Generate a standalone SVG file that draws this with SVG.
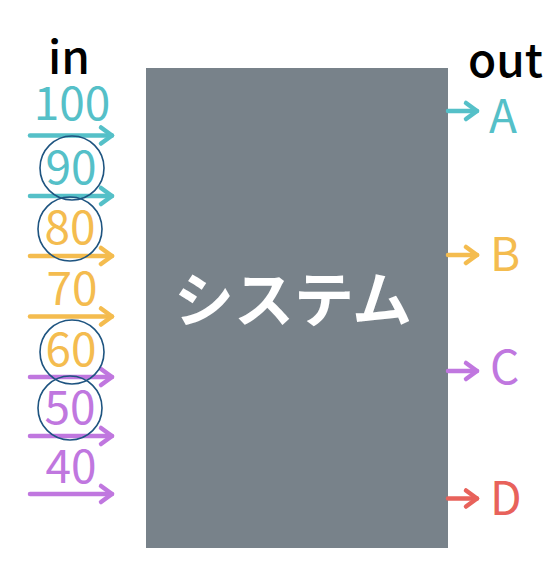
<svg xmlns="http://www.w3.org/2000/svg" width="560" height="576" viewBox="0 0 560 576">
<style>
.t{font-family:"Noto Sans CJK JP","Noto Sans",sans-serif;font-size:46px;font-weight:400}
.h{font-family:"Noto Sans CJK JP","Noto Sans",sans-serif;font-size:46px;font-weight:500;fill:#000}
.m{text-anchor:middle}
.teal{fill:#55c0c8}.orange{fill:#f4bc4f}.purple{fill:#c077df}.red{fill:#e8625b}
.a{fill:none;stroke-width:4.5;stroke-linecap:round}
.ring{fill:none;stroke:#1e5480;stroke-width:1.6}
.sys{font-family:"Noto Sans CJK JP","Noto Sans",sans-serif;font-size:60px;font-weight:bold;fill:#fff;text-anchor:middle}
</style>
<defs>
<marker id="mt" markerUnits="userSpaceOnUse" markerWidth="20" markerHeight="20" refX="14" refY="10" orient="auto" overflow="visible"><path d="M3 2 L14 10 L3 18" fill="none" stroke="#55c0c8" stroke-width="4.5" stroke-linecap="round" stroke-linejoin="round"/></marker>
<marker id="mo" markerUnits="userSpaceOnUse" markerWidth="20" markerHeight="20" refX="14" refY="10" orient="auto" overflow="visible"><path d="M3 2 L14 10 L3 18" fill="none" stroke="#f4bc4f" stroke-width="4.5" stroke-linecap="round" stroke-linejoin="round"/></marker>
<marker id="mp" markerUnits="userSpaceOnUse" markerWidth="20" markerHeight="20" refX="14" refY="10" orient="auto" overflow="visible"><path d="M3 2 L14 10 L3 18" fill="none" stroke="#c077df" stroke-width="4.5" stroke-linecap="round" stroke-linejoin="round"/></marker>
<marker id="mr" markerUnits="userSpaceOnUse" markerWidth="20" markerHeight="20" refX="14" refY="10" orient="auto" overflow="visible"><path d="M3 2 L14 10 L3 18" fill="none" stroke="#e8625b" stroke-width="4.5" stroke-linecap="round" stroke-linejoin="round"/></marker>
</defs>
<rect width="560" height="576" fill="#fff"/>
<g id="system">
<rect x="146" y="68" width="302" height="480" fill="#78828a"/>
<text class="sys" x="293" y="322">システム</text>
</g>
<g id="headers">
<text class="h" x="48" y="73.5">in</text>
<text class="h" x="468" y="77">out</text>
</g>
<g id="connectors">
<line class="a" x1="30" y1="135.5" x2="112" y2="135.5" stroke="#55c0c8" marker-end="url(#mt)"/>
<line class="a" x1="30" y1="196" x2="112" y2="196" stroke="#55c0c8" marker-end="url(#mt)"/>
<line class="a" x1="30" y1="256" x2="112" y2="256" stroke="#f4bc4f" marker-end="url(#mo)"/>
<line class="a" x1="30" y1="316.5" x2="112" y2="316.5" stroke="#f4bc4f" marker-end="url(#mo)"/>
<line class="a" x1="30" y1="377" x2="112" y2="377" stroke="#c077df" marker-end="url(#mp)"/>
<line class="a" x1="30" y1="436" x2="112" y2="436" stroke="#c077df" marker-end="url(#mp)"/>
<line class="a" x1="30" y1="494" x2="112" y2="494" stroke="#c077df" marker-end="url(#mp)"/>
<line class="a" x1="448" y1="111" x2="477" y2="111" stroke="#55c0c8" marker-end="url(#mt)"/>
<line class="a" x1="448" y1="255" x2="477" y2="255" stroke="#f4bc4f" marker-end="url(#mo)"/>
<line class="a" x1="448" y1="371" x2="477" y2="371" stroke="#c077df" marker-end="url(#mp)"/>
<line class="a" x1="448" y1="498.5" x2="477" y2="498.5" stroke="#e8625b" marker-end="url(#mr)"/>
</g>
<g id="inputs">
<text class="t m teal" x="72" y="120">100</text>
<text class="t m teal" x="71" y="184">90</text>
<text class="t m orange" x="70" y="244">80</text>
<text class="t m orange" x="72" y="305">70</text>
<text class="t m orange" x="71" y="366">60</text>
<text class="t m purple" x="70" y="424">50</text>
<text class="t m purple" x="71" y="483">40</text>
</g>
<g id="rings">
<circle class="ring" cx="72" cy="168" r="32"/>
<circle class="ring" cx="70" cy="229" r="32"/>
<circle class="ring" cx="72" cy="352" r="32"/>
<circle class="ring" cx="70" cy="408" r="32"/>
</g>
<g id="outputs">
<text class="t teal" x="489" y="133">A</text>
<text class="t orange" x="490" y="271">B</text>
<text class="t purple" x="490" y="384">C</text>
<text class="t red" x="490" y="515">D</text>
</g>
</svg>
